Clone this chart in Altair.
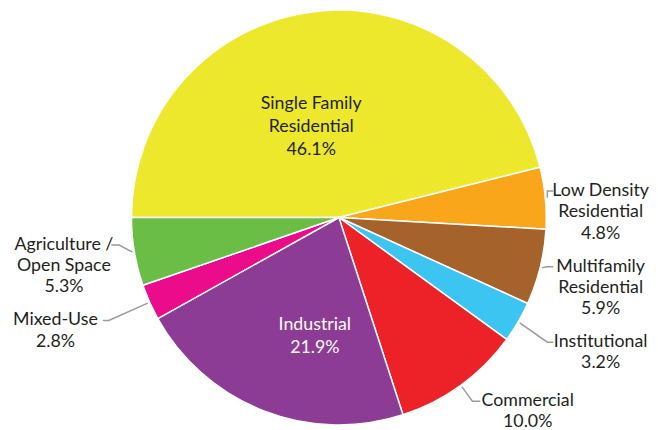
import math
import altair as alt
import pandas as pd

# ---------------- data ----------------
categories = [
    "Single Family Residential", "Low Density Residential", "Multifamily Residential",
    "Institutional", "Commercial", "Industrial", "Mixed-Use", "Agriculture / Open Space",
]
label_lines = [
    ["Single Family", "Residential"], ["Low Density", "Residential"],
    ["Multifamily", "Residential"], ["Institutional"], ["Commercial"],
    ["Industrial"], ["Mixed-Use"], ["Agriculture /", "Open Space"],
]
shares = [46.1, 4.8, 5.9, 3.2, 10.0, 21.9, 2.8, 5.3]
colors = ["#EEE82C", "#F9A61B", "#A5632B", "#3CC5F0", "#ED2228", "#8D3C96", "#EA0C8B", "#6BBE45"]
label_inside = [True, False, False, False, False, True, False, False]
inside_text_colors = {"Single Family Residential": "#231F20", "Industrial": "#FFFFFF"}

# ---------------- layout ----------------
W, H = 650, 422
CX, CY = 335, 209.5
R = 210
START = -math.pi / 2
LH_OUT = 21.5
LH_IN = 23.5
FS = 18
FONT = "Lato"
TEXT_GAP = 48           # distance from leader end to text centre
X_MIN, X_MAX = 48, 600  # keep label centres on the page
IN_ROT = math.radians(-10)  # inside labels sit slightly counter-clockwise of the mid angle

total = sum(shares)
cum = 0.0
mids = []
for v in shares:
    mids.append(START + 2 * math.pi * (cum + v / 2) / total)
    cum += v


def polar(r, th):
    return CX + r * math.sin(th), CY - r * math.cos(th)


rows = []
texts_in = []
texts_out = []
leaders = []
outside = {"L": [], "R": []}
for i, cat in enumerate(categories):
    lines = label_lines[i] + [f"{shares[i]:.1f}%"]
    text = "\n".join(lines)
    th = mids[i]
    rows.append({"category": cat, "share": shares[i], "idx": i})
    if label_inside[i]:
        frac = 0.456 if shares[i] > 40 else 0.586
        x, yc = polar(R * frac, th + IN_ROT)
        texts_in.append({"category": cat, "text": text, "x": x,
                         "y": yc - (len(lines) - 1) * LH_IN / 2,
                         "tcolor": inside_text_colors.get(cat, "#231F20")})
    else:
        p0 = polar(R + 2, th)
        side = "R" if math.sin(th) > 0 else "L"
        outside[side].append({"i": i, "cat": cat, "text": text, "n": len(lines), "th": th,
                              "p0": p0, "y": polar(R + 20, th)[1]})

# resolve overlaps (least squares with minimum spacing, pool adjacent violators)
for side, items in outside.items():
    items.sort(key=lambda d: d["y"])
    offs = [0.0]
    for a in items[:-1]:
        offs.append(offs[-1] + a["n"] * LH_OUT + 12)
    z = [it["y"] - o for it, o in zip(items, offs)]
    blocks = []
    for val in z:
        blocks.append([val, 1])
        while len(blocks) > 1 and blocks[-2][0] > blocks[-1][0]:
            v2, n2 = blocks.pop()
            v1, n1 = blocks.pop()
            blocks.append([(v1 * n1 + v2 * n2) / (n1 + n2), n1 + n2])
    fit = []
    for val, n in blocks:
        fit += [val] * n
    for it, f, o in zip(items, fit, offs):
        it["y"] = f + o

    sgn = 1 if side == "R" else -1
    for it in items:
        p0x, p0y = it["p0"]
        ly = it["y"]
        dy = ly - p0y
        rad_dy = -math.cos(it["th"])
        if dy * rad_dy > 0:   # label lies along the radial direction: follow it
            dx = abs(dy) * abs(math.tan(it["th"]))
        else:
            dx = 6 + abs(dy)
        dx = min(max(dx, 4), 40)
        elbow = p0x + sgn * dx
        end = elbow + sgn * 8
        tc = end + sgn * TEXT_GAP
        if tc > X_MAX or tc < X_MIN:
            tc = min(max(tc, X_MIN), X_MAX)
            end = tc - sgn * TEXT_GAP
            elbow = end - sgn * 6
            if sgn * (elbow - p0x) < 0:
                elbow = p0x
        pts = [(p0x, p0y), (elbow, ly), (end, ly)]
        for k, (px, py) in enumerate(pts):
            leaders.append({"category": it["cat"], "seq": k, "x": px, "y": py})
        texts_out.append({"category": it["cat"], "text": it["text"], "x": tc,
                          "y": ly, "tcolor": "#231F20"})

slices = pd.DataFrame(rows)
labels_in = pd.DataFrame(texts_in)
labels_out = pd.DataFrame(texts_out)
lines_df = pd.DataFrame(leaders)

pie = alt.Chart(slices).mark_arc(outerRadius=R, stroke="white", strokeWidth=1.5).encode(
    theta=alt.Theta("share:Q", stack=True,
                    scale=alt.Scale(range=[START, START + 2 * math.pi])),
    color=alt.Color("category:N", scale=alt.Scale(domain=categories, range=colors), legend=None),
    order=alt.Order("idx:Q"),
    x=alt.value(CX),
    y=alt.value(CY),
)

leader = alt.Chart(lines_df).mark_line(color="#9B9B9B", strokeWidth=1.5).encode(
    x=alt.X("x:Q", scale=None, axis=None),
    y=alt.Y("y:Q", scale=None, axis=None),
    detail="category:N",
    order="seq:Q",
)


def text_layer(df, lh):
    return alt.Chart(df).mark_text(
        font=FONT, fontSize=FS, lineBreak="\n", lineHeight=lh,
        align="center", baseline="middle"
    ).encode(
        x=alt.X("x:Q", scale=None, axis=None),
        y=alt.Y("y:Q", scale=None, axis=None),
        text="text:N",
        color=alt.Color("tcolor:N", scale=None),
    )


chart = alt.layer(pie, leader, text_layer(labels_in, LH_IN), text_layer(labels_out, LH_OUT)).properties(
    width=W, height=H, padding=0, autosize=alt.AutoSizeParams(type="none")
).configure_view(stroke=None)

chart.save("out.html", embed_options={"renderer": "svg", "actions": False})
